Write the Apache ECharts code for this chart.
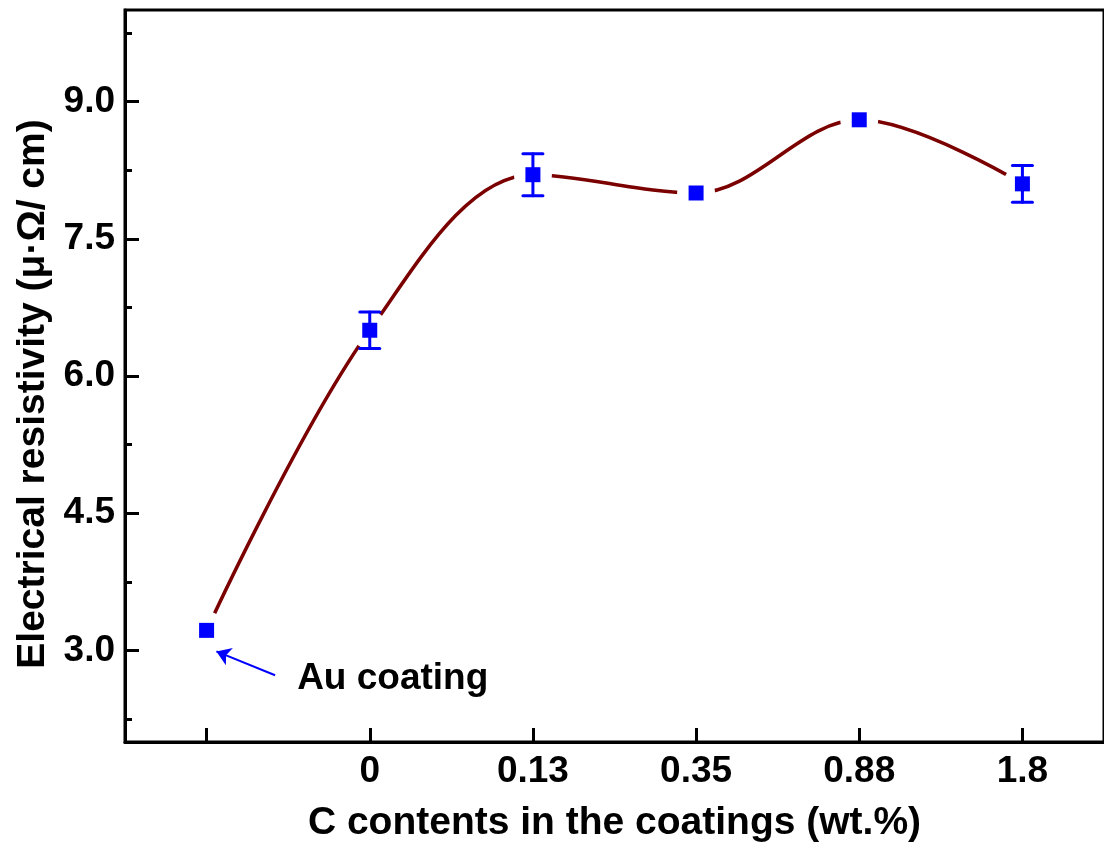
<!DOCTYPE html>
<html>
<head>
<meta charset="utf-8">
<script src="https://cdn.jsdelivr.net/npm/echarts@6/dist/echarts.min.js"></script>
<style>
html,body{margin:0;padding:0;background:#fff;}
#chart{width:1104px;height:850px;}
</style>
</head>
<body>
<div id="chart"></div>
<script>
const categories = ['', '0', '0.13', '0.35', '0.88', '1.8'];
const resistivity = [3.22, 6.50, 8.20, 8.00, 8.80, 8.10];
const errors = [0, 0.20, 0.23, 0, 0, 0.20];
const yMajorTicks = [3.0, 4.5, 6.0, 7.5, 9.0];
const yMinorTicks = [2.25, 3.75, 5.25, 6.75, 8.25, 9.75];
const xTicks = [0, 1, 2, 3, 4, 5];
const annotationText = 'Au coating';
const arrowFrom = [0.42, 2.73];
const arrowTo = [0.06, 2.99];
const textAnchor = [0.555, 2.69];

const FONT = 'Liberation Sans';
const pts = resistivity.map((v, i) => [i, v]);
const errData = resistivity.map((v, i) => [i, v - errors[i], v + errors[i]]).filter((d, i) => errors[i] > 0);

const chart = echarts.init(document.getElementById('chart'));
chart.setOption({
  animation: false,
  backgroundColor: '#fff',
  grid: {left: 125, top: 10, right: -4, bottom: 108, show: true, borderColor: '#000', borderWidth: 3, backgroundColor: 'transparent'},
  xAxis: {
    type: 'value', min: -0.5, max: 5.5,
    name: 'C contents in the coatings (wt.%)', nameLocation: 'middle', nameGap: 62,
    nameTextStyle: {fontFamily: FONT, fontWeight: 'bold', fontSize: 39, color: '#000'},
    axisLine: {show: true, onZero: false, lineStyle: {color: '#000', width: 3}},
    axisTick: {show: true, inside: true, length: 14, customValues: xTicks, lineStyle: {color: '#000', width: 3}},
    axisLabel: {show: true, customValues: xTicks, margin: 11, formatter: v => categories[Math.round(v)],
      fontFamily: FONT, fontWeight: 'bold', fontSize: 37, color: '#000'},
    splitLine: {show: false}
  },
  yAxis: [{
    type: 'value', min: 2, max: 10,
    name: 'Electrical resistivity (μ·Ω/ cm)', nameLocation: 'middle', nameGap: 72,
    nameTextStyle: {fontFamily: FONT, fontWeight: 'bold', fontSize: 39, color: '#000', padding: [0, 36, 0, 0]},
    axisLine: {show: true, onZero: false, lineStyle: {color: '#000', width: 3}},
    axisTick: {show: true, inside: true, length: 14, customValues: yMajorTicks, lineStyle: {color: '#000', width: 3}},
    axisLabel: {show: true, customValues: yMajorTicks, margin: 10, formatter: v => v.toFixed(1),
      fontFamily: FONT, fontWeight: 'bold', fontSize: 37, color: '#000'},
    splitLine: {show: false}
  }, {
    type: 'value', min: 2, max: 10, position: 'left', offset: 0,
    axisLine: {show: false, onZero: false},
    axisTick: {show: true, inside: true, length: 7, customValues: yMinorTicks, lineStyle: {color: '#000', width: 3}},
    axisLabel: {show: false},
    splitLine: {show: false}
  }],
  series: [{
    type: 'line', data: pts, smooth: 0.35, showSymbol: false,
    lineStyle: {color: '#7b0000', width: 3.5},
    z: 2, silent: true
  }, {
    type: 'scatter', data: pts, symbol: 'circle', symbolSize: 38,
    itemStyle: {color: '#ffffff', opacity: 1}, z: 3, silent: true
  }, {
    type: 'scatter', data: pts, symbol: 'rect', symbolSize: 15,
    itemStyle: {color: '#0000ff', opacity: 1}, z: 4, silent: true
  }, {
    type: 'custom', data: errData, z: 5, silent: true,
    renderItem: (params, api) => {
      const x = api.value(0);
      const lo = api.coord([x, api.value(1)]);
      const hi = api.coord([x, api.value(2)]);
      const hw = 10;
      const style = {stroke: '#0000ff', lineWidth: 3, lineCap: 'round'};
      return {type: 'group', children: [
        {type: 'line', shape: {x1: lo[0], y1: lo[1], x2: hi[0], y2: hi[1]}, style},
        {type: 'line', shape: {x1: lo[0] - hw, y1: lo[1], x2: lo[0] + hw, y2: lo[1]}, style},
        {type: 'line', shape: {x1: hi[0] - hw, y1: hi[1], x2: hi[0] + hw, y2: hi[1]}, style}
      ]};
    }
  }, {
    type: 'scatter', data: [textAnchor], symbolSize: 0, z: 6, silent: true,
    itemStyle: {opacity: 1},
    label: {show: true, position: 'right', distance: 0, formatter: annotationText,
      fontFamily: FONT, fontWeight: 'bold', fontSize: 37, color: '#000', opacity: 1},
    markLine: {
      silent: true, symbol: ['none', 'arrow'], symbolSize: 14,
      label: {show: false},
      lineStyle: {color: '#0000ff', width: 2, type: 'solid', opacity: 1},
      data: [[{coord: arrowFrom}, {coord: arrowTo}]]
    }
  }]
});
</script>
</body>
</html>
